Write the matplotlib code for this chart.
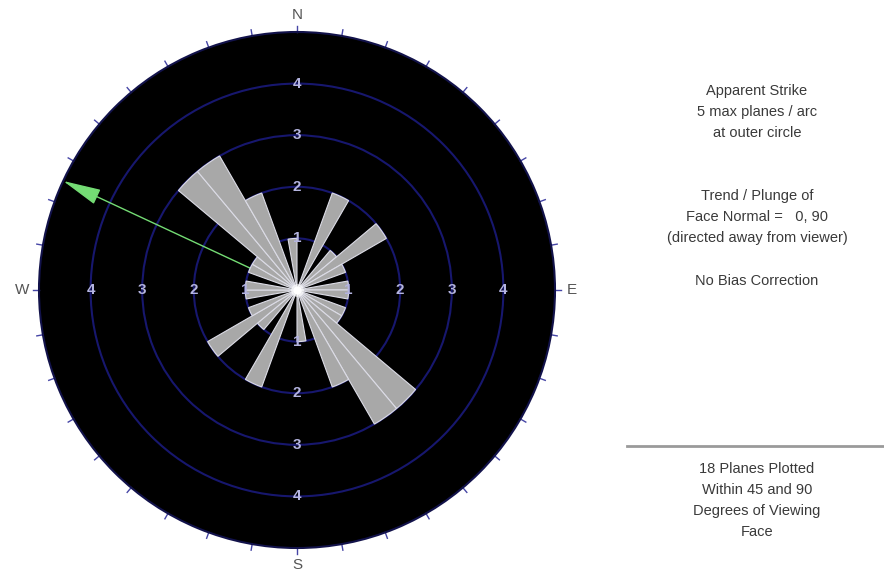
import numpy as np
import matplotlib.pyplot as plt
from matplotlib.lines import Line2D

plt.rcParams['font.family'] = ['Liberation Sans', 'DejaVu Sans']

# apparent strike rose, 10 degree bins, planes per bin (0-180, mirrored)
bin_start = [20, 40, 50, 60, 80, 90, 110, 120, 130, 140, 150, 170]
counts = [2, 1, 2, 1, 1, 1, 1, 1, 3, 3, 2, 1]
bin_width = 10

ring_values = [1, 2, 3, 4]
outer_value = 5
cardinals = ['N', 'E', 'S', 'W']

arrow_trend = 295

info_top = ['Apparent Strike', '5 max planes / arc', 'at outer circle']
info_mid = ['Trend / Plunge of', 'Face Normal =   0, 90', '(directed away from viewer)']
info_bias = ['No Bias Correction']
info_bottom = ['18 Planes Plotted', 'Within 45 and 90', 'Degrees of Viewing', 'Face']

W, H = 884, 578
fig = plt.figure(figsize=(W / 100, H / 100), dpi=100)
fig.patch.set_facecolor('white')

# rose plot: center ~(297,290) px, outer radius ~258 px
cx, cy, R = 297, 290, 258
ax = fig.add_axes([(cx - R) / W, (H - cy - R) / H, 2 * R / W, 2 * R / H], projection='polar')
ax.set_theta_zero_location('N')
ax.set_theta_direction(-1)
ax.set_ylim(0, outer_value)
ax.set_facecolor('black')
ax.set_xticks([])
ax.set_yticks(ring_values)
ax.set_yticklabels([])
ax.yaxis.grid(True, color='#17176e', lw=1.5)
ax.spines['polar'].set_color('#12124a')
ax.spines['polar'].set_linewidth(1.5)

starts = np.array(bin_start + [b + 180 for b in bin_start])
vals = np.array(counts + counts)
ax.bar(np.deg2rad(starts), vals, width=np.deg2rad(bin_width), align='edge',
       color='#a8a8a8', edgecolor='#dcdce6', linewidth=0.8, zorder=3)
ax.scatter([0], [0], s=70, color='white', alpha=0.5, zorder=5)
ax.scatter([0], [0], s=25, color='white', zorder=5)

# trend arrow
ax.annotate('', xy=(np.deg2rad(arrow_trend), outer_value), xytext=(0, 0),
            arrowprops=dict(arrowstyle='-|>,head_length=2.4,head_width=0.5',
                            color='#74dc74', lw=1, shrinkA=0, shrinkB=0),
            zorder=2.5)

# ring labels along the four axes
for ang in [0, 90, 180, 270]:
    for r in ring_values:
        ax.text(np.deg2rad(ang), r, str(r), ha='center', va='center',
                color='#b4b4e0', fontsize=11, fontweight='bold', zorder=6)

# outer ticks every 10 degrees
for t in range(0, 360, 10):
    th = np.deg2rad(t)
    ax.plot([th, th], [outer_value, outer_value + 0.12], color='#4646a6',
            lw=1, clip_on=False)

for i, lab in enumerate(cardinals):
    ax.text(np.deg2rad(i * 90), outer_value + 0.33, lab, ha='center', va='center',
            color='#555555', fontsize=11, clip_on=False)

# info text on the right
tx = 757 / W
def put_lines(lines, y0, step=21):
    for k, s in enumerate(lines):
        fig.text(tx, 1 - (y0 + k * step) / H, s, ha='center', va='center',
                 color='#3a3a3a', fontsize=10.5)

put_lines(info_top, 91)
put_lines(info_mid, 196)
put_lines(info_bias, 281)
put_lines(info_bottom, 469)
fig.add_artist(Line2D([627 / W, 1], [1 - 446 / H] * 2, color='#9a9a9a', lw=2))

fig.savefig('out.png', dpi=100)
